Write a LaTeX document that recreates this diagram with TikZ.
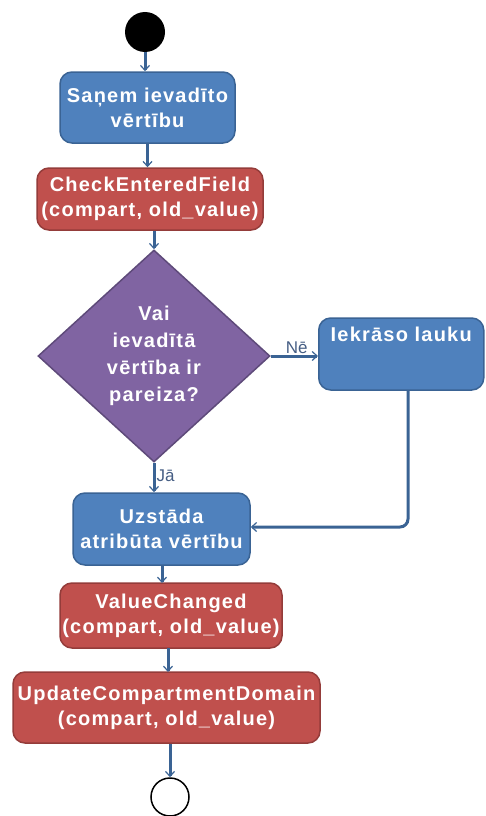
\documentclass[tikz,border=0pt]{standalone}
\usepackage{fontspec}
\setmainfont{Liberation Sans}
\newfontfamily\boxfont[LetterSpace=6]{Liberation Sans}
\usetikzlibrary{shapes.geometric,arrows.meta}

\definecolor{actblue}{HTML}{4F81BD}
\definecolor{actblueline}{HTML}{3A6394}
\definecolor{callred}{HTML}{C0504D}
\definecolor{callredline}{HTML}{943C3A}
\definecolor{decpurple}{HTML}{8064A2}
\definecolor{decpurpleline}{HTML}{5E4A7A}
\definecolor{flowline}{HTML}{3A6394}
\definecolor{guardtext}{HTML}{465E84}

\tikzset{
  x=1pt, y=-1pt,
  boxtext/.style={text=white, font=\boxfont\fontsize{20}{25}\selectfont\bfseries, align=center},
  action/.style={boxtext, rectangle, rounded corners=12pt, fill=actblue, draw=actblueline, line width=1.5pt, inner sep=0pt},
  callbox/.style={boxtext, rectangle, rounded corners=12pt, fill=callred, draw=callredline, line width=1.5pt, inner sep=0pt},
  decision/.style={boxtext, diamond, fill=decpurple, draw=decpurpleline, line width=1.5pt, inner sep=0pt, font=\boxfont\fontsize{20}{27}\selectfont\bfseries},
  flow/.style={draw=flowline, line width=3pt, -{Straight Barb[length=5pt,width=9pt,line width=1.2pt]}},
  guard/.style={text=guardtext, font=\fontsize{17}{20}\selectfont, inner sep=1pt},
}

\begin{document}
\begin{tikzpicture}
  \useasboundingbox (0,0) rectangle (486,816);

  % initial and final states
  \node (start) [circle, fill=black, minimum size=40pt, inner sep=0pt] at (145,32) {};
  \node (final) [circle, draw=black, line width=1.5pt, fill=white, minimum size=38pt, inner sep=0pt] at (170,797) {};

  % activities
  \node (receive) [action, minimum width=175pt, minimum height=71pt] at (147.5,107.5) {Saņem ievadīto\\vērtību};
  \node (check) [callbox, minimum width=226pt, minimum height=62pt] at (150,199) {CheckEnteredField\\(compart, old\_value)};
  \node (valid) [decision, minimum width=232pt, minimum height=212pt, aspect=1.1] at (154,356) {Vai\\ievadītā\\vērtība ir\\pareiza?};
  \node (mark) [action, minimum width=165pt, minimum height=72pt, anchor=west] at (318,354) {};
  \node (marklabel) [boxtext, anchor=north, yshift=-6pt] at (mark.north) {Iekrāso lauku};
  \node (set) [action, minimum width=177pt, minimum height=72pt] at (161.5,529) {Uzstāda\\atribūta vērtību};
  \node (changed) [callbox, minimum width=222pt, minimum height=65pt] at (171,615.5) {ValueChanged\\(compart, old\_value)};
  \node (update) [callbox, minimum width=307pt, minimum height=71pt] at (166.5,707.5) {UpdateCompartmentDomain\\(compart, old\_value)};

  % control flow
  \draw[flow] (start.south) -- (start.south |- receive.north);
  \draw[flow] (receive.south) -- (receive.south |- check.north);
  \draw[flow] (check.south -| valid.north) -- (valid.north);
  \draw[flow] (valid.east) -- (mark.west |- valid.east) node[guard, pos=0.55, above] {Nē};
  \draw[flow] (valid.south) -- (valid.south |- set.north) node[guard, pos=0.45, right] {Jā};
  \coordinate (markdown) at (408,390);
  \draw[flow, rounded corners=8pt] (markdown) -- (408,527) -- (set.east |- 0,527);
  \draw[flow] (162,565) -- (162,583);
  \draw[flow] (168,648) -- (168,672);
  \draw[flow] (update.south -| final.north) -- (final.north);
\end{tikzpicture}
\end{document}
